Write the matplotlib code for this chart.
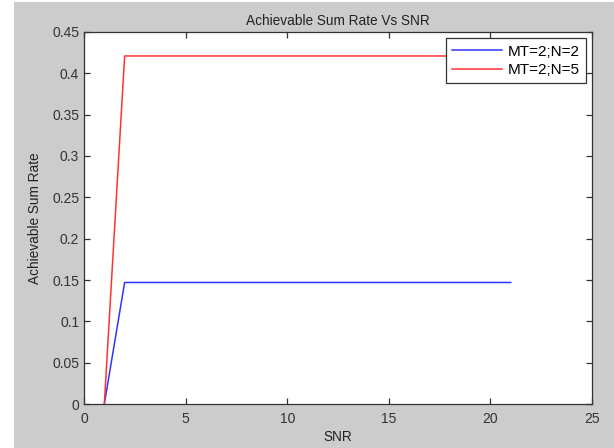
import matplotlib
matplotlib.use("Agg")
import matplotlib.pyplot as plt
from matplotlib.ticker import FuncFormatter
from matplotlib.patches import Rectangle

snr = list(range(1, 22))
rate_n2 = [0.0] + [0.147] * 20
rate_n5 = [0.0] + [0.421] * 20
labels = ["MT=2;N=2", "MT=2;N=5"]

plt.rcParams['font.family'] = ['Liberation Sans', 'DejaVu Sans']
fig = plt.figure(figsize=(6.14, 4.48), dpi=100, facecolor='white')
fig.patches.append(Rectangle((14/614, -0.01), 1.02, 1.01 - 2/448, transform=fig.transFigure,
                             facecolor='#cccccc', edgecolor='none', zorder=-10))
ax = fig.add_axes([84/614, 1-404/448, (592-84)/614, (404-32)/448])
ax.plot(snr, rate_n2, color='#3333ff', lw=1.1, label=labels[0])
ax.plot(snr, rate_n5, color='#ff3333', lw=1.1, label=labels[1])
ax.set_xlim(0, 25)
ax.set_ylim(0, 0.45)
ax.set_xticks(range(0, 26, 5))
ax.set_yticks([i*0.05 for i in range(10)])
ax.yaxis.set_major_formatter(FuncFormatter(lambda v, p: '%g' % round(v, 2)))
ax.tick_params(direction='in', top=True, right=True, labelsize=10, length=4, width=0.9,
               colors='#333333')
ax.tick_params(axis='x', pad=5.5)
ax.tick_params(axis='y', pad=3.5)
for s in ax.spines.values():
    s.set_color('#333333')
    s.set_linewidth(0.9)
ax.set_title("Achievable Sum Rate Vs SNR", fontsize=9.8, color='#222222', pad=5)
ax.set_xlabel("SNR", fontsize=9.8, color='#222222', labelpad=3)
ax.set_ylabel("Achievable Sum Rate", fontsize=9.8, color='#222222', labelpad=7)
leg = ax.legend(loc='upper right', fontsize=11, fancybox=False, framealpha=1,
                edgecolor='#333333', borderaxespad=0.42, handlelength=3.3,
                borderpad=0.4, labelspacing=0.3, handletextpad=0.35)
leg.get_frame().set_linewidth(0.9)
fig.savefig("out.png", dpi=100, facecolor=fig.get_facecolor())
